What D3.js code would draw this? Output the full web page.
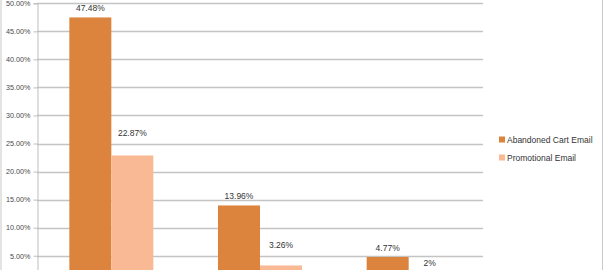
<!DOCTYPE html>
<html>
  <head>
    <meta charset="utf-8" />
    <title>Abandoned cart vs promotional email</title>
    <script src="https://d3js.org/d3.v7.min.js"></script>
    <style>
      body { margin: 0; background: #fff; }
      text { font-family: "Liberation Sans", Arial, sans-serif; }
    </style>
  </head>

  <body>
    <svg id="chart" width=604 height=270></svg>

    <script>

    // data (category names fall below the crop)
    var categories = ["Open Rate", "Click Rate", "Conversion Rate"];
    var seriesNames = ["Abandoned Cart Email", "Promotional Email"];
    var abandonedCart = [47.48, 13.96, 4.77];
    var promotional = [22.87, 3.26, 2];
    var tickValues = [5, 10, 15, 20, 25, 30, 35, 40, 45, 50];

    var colors = ["#dc843e", "#f9b994"];
    // how far each value label's baseline sits above its bar, as placed in the original
    var labelLift = [[6, 6, 6], [19, 17, 7]];

    var svg = d3.select("#chart");
    var left = 37, right = 483;

    var y = d3.scaleLinear()
      .domain([0, 50])
      .range([283.75, 3.3]);

    var x0 = d3.scaleBand()
      .domain(categories)
      .range([left, right])
      .paddingInner(0.435)
      .paddingOuter(0.2175);

    var x1 = d3.scaleBand()
      .domain(seriesNames)
      .range([0, x0.bandwidth()]);

    // frame
    svg.append("line").attr("x1", 1).attr("x2", 1).attr("y1", 0).attr("y2", 270)
      .attr("stroke", "#c8c8c8");
    svg.append("line").attr("x1", 602.5).attr("x2", 602.5).attr("y1", 0).attr("y2", 270)
      .attr("stroke", "#c8c8c8");

    // gridlines
    svg.selectAll(".grid").data(tickValues).enter().append("line")
      .attr("class", "grid")
      .attr("x1", left).attr("x2", right)
      .attr("y1", function(d) { return Math.round(y(d)) + 0.5; })
      .attr("y2", function(d) { return Math.round(y(d)) + 0.5; })
      .attr("stroke", "#c4c4c4")
      .attr("stroke-width", 1.4);

    // y axis
    var yAxis = d3.axisLeft(y)
      .tickValues(tickValues)
      .tickSize(4)
      .tickPadding(3)
      .tickFormat(function(d) { return d.toFixed(2) + "%"; });

    var axisG = svg.append("g")
      .attr("transform", "translate(" + (left + 0.5) + ",0)")
      .call(yAxis);
    axisG.select(".domain").attr("stroke", "#bdbdbd");
    axisG.selectAll(".tick line").attr("stroke", "#bdbdbd");
    axisG.selectAll(".tick text")
      .attr("fill", "#4a4a4a")
      .style("font-family", "'Liberation Sans', Arial, sans-serif")
      .style("font-size", "7.2px");

    // bars
    var series = [abandonedCart, promotional];
    series.forEach(function(values, s) {
      svg.selectAll(".bar" + s).data(values).enter().append("rect")
        .attr("class", "bar" + s)
        .attr("x", function(d, i) { return x0(categories[i]) + x1(seriesNames[s]); })
        .attr("width", x1.bandwidth())
        .attr("y", function(d) { return y(d); })
        .attr("height", function(d) { return y(0) - y(d); })
        .attr("fill", colors[s]);

      svg.selectAll(".label" + s).data(values).enter().append("text")
        .attr("class", "label" + s)
        .attr("x", function(d, i) { return x0(categories[i]) + x1(seriesNames[s]) + x1.bandwidth() / 2; })
        .attr("y", function(d, i) { return y(d) - labelLift[s][i]; })
        .attr("text-anchor", "middle")
        .attr("fill", "#333")
        .style("font-size", "8.5px")
        .text(function(d) { return d + "%"; });
    });

    // legend
    var legend = svg.selectAll(".legend").data(seriesNames).enter().append("g")
      .attr("class", "legend")
      .attr("transform", function(d, i) { return "translate(499," + (139.5 + i * 18) + ")"; });

    legend.append("rect")
      .attr("x", 0).attr("y", -3)
      .attr("width", 6).attr("height", 6)
      .attr("fill", function(d, i) { return colors[i]; });

    legend.append("text")
      .attr("x", 8).attr("y", 3)
      .attr("fill", "#333")
      .style("font-size", "8.5px")
      .text(function(d) { return d; });

    </script>
  </body>
</html>
